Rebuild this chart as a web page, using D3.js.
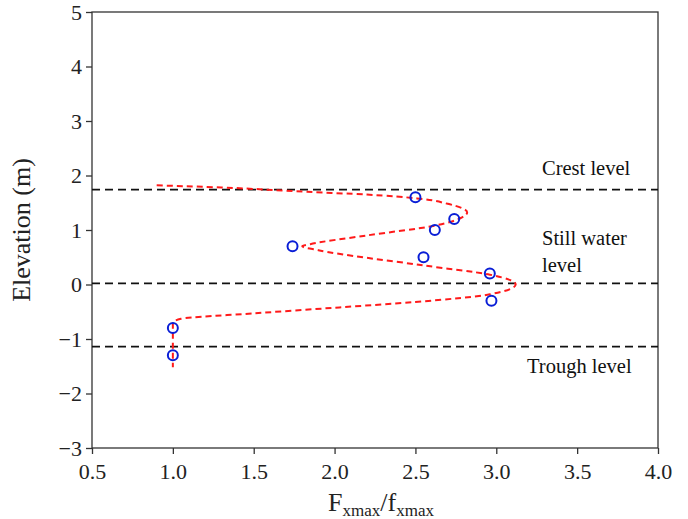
<!DOCTYPE html>
<meta charset="utf-8">
<script src="https://d3js.org/d3.v7.min.js"></script>
<body style="margin:0;background:#fff">
<div id="my_dataviz"></div>
</body>
<style>
text { font-family: "Liberation Serif", "DejaVu Serif", serif; }
.tick text { font-size: 22px; fill: #222; }
</style>
<script>
// measured points (circles)
var ptX = [2.50, 2.74, 2.62, 1.74, 2.55, 2.96, 2.97, 1.00, 1.00];
var ptY = [1.60, 1.20, 1.00, 0.70, 0.50, 0.20, -0.30, -0.80, -1.30];

// fitted profile (red dashed), ordered top to bottom
var fitX = [0.90, 1.30, 1.83, 2.20, 2.51, 2.70, 2.82, 2.78, 2.62, 2.20, 1.85, 1.80, 1.90, 2.55, 2.96, 3.12, 2.96, 2.50, 2.03, 1.50, 1.05, 1.00, 1.00];
var fitY = [1.82, 1.78, 1.70, 1.65, 1.58, 1.48, 1.32, 1.22, 1.08, 0.90, 0.74, 0.70, 0.63, 0.35, 0.18, 0.00, -0.18, -0.32, -0.42, -0.53, -0.63, -0.70, -1.52];

// reference levels
var levelNames = ["Crest level", "Still water level", "Trough level"];
var levelY = [1.74, 0.02, -1.14];

var xTicks = [0.5, 1.0, 1.5, 2.0, 2.5, 3.0, 3.5, 4.0];
var yTicks = [-3, -2, -1, 0, 1, 2, 3, 4, 5];

var margin = {top: 12, right: 30, bottom: 71, left: 92},
    width = 688 - margin.left - margin.right,
    height = 519 - margin.top - margin.bottom;

var svg = d3.select("#my_dataviz")
  .append("svg")
    .attr("width", 688)
    .attr("height", 519)
  .append("g")
    .attr("transform", "translate(" + margin.left + "," + margin.top + ")");

var x = d3.scaleLinear().domain([0.5, 4.0]).range([0, width]);
var y = d3.scaleLinear().domain([-3, 5]).range([height, 0]);

// axes
var xAxis = svg.append("g")
  .attr("transform", "translate(0," + height + ")")
  .call(d3.axisBottom(x).tickValues(xTicks).tickFormat(d3.format(".1f")).tickSize(6).tickSizeOuter(0));
var yAxis = svg.append("g")
  .call(d3.axisLeft(y).tickValues(yTicks).tickSize(6).tickSizeOuter(0));

[xAxis, yAxis].forEach(function(a) {
  a.select(".domain").remove();
  a.selectAll(".tick line").attr("stroke", "#333").attr("stroke-width", 1.3);
});
xAxis.selectAll(".tick text").attr("dy", "1.0em");
yAxis.selectAll(".tick text").attr("dx", "-0.05em");

// frame
svg.append("rect")
  .attr("width", width).attr("height", height)
  .attr("fill", "none").attr("stroke", "#333").attr("stroke-width", 1.3);

// level lines
svg.selectAll(".level")
  .data(levelY)
  .enter().append("line")
    .attr("x1", 0).attr("x2", width)
    .attr("y1", function(d) { return y(d); })
    .attr("y2", function(d) { return y(d); })
    .attr("stroke", "#111").attr("stroke-width", 1.8)
    .attr("stroke-dasharray", "8,5");

// fitted profile
var fit = fitX.map(function(v, i) { return [v, fitY[i]]; });
svg.append("path")
  .datum(fit)
  .attr("fill", "none")
  .attr("stroke", "#ff1a1a").attr("stroke-width", 2)
  .attr("stroke-dasharray", "6,4")
  .attr("d", d3.line()
    .curve(d3.curveMonotoneY)
    .x(function(d) { return x(d[0]); })
    .y(function(d) { return y(d[1]); }));

// measured points
svg.selectAll(".pt")
  .data(ptX)
  .enter().append("circle")
    .attr("cx", function(d) { return x(d); })
    .attr("cy", function(d, i) { return y(ptY[i]); })
    .attr("r", 5)
    .attr("fill", "none")
    .attr("stroke", "#0a1ed6").attr("stroke-width", 2);

// level labels
var lab = svg.append("g").style("font-size", "20.5px").attr("fill", "#111");
lab.append("text").attr("x", 450).attr("y", y(levelY[0]) - 15).text("Crest level");
lab.append("text").attr("x", 450).attr("y", y(levelY[1]) - 38).text("Still water");
lab.append("text").attr("x", 450).attr("y", y(levelY[1]) - 11).text("level");
lab.append("text").attr("x", 435).attr("y", y(levelY[2]) + 26).text("Trough level");

// axis titles
svg.append("text")
  .attr("transform", "translate(-62," + (height / 2) + ") rotate(-90)")
  .attr("text-anchor", "middle")
  .style("font-size", "26px").attr("fill", "#222")
  .text("Elevation (m)");

var xl = svg.append("text")
  .attr("x", width / 2 + 6).attr("y", height + 63)
  .attr("text-anchor", "middle")
  .style("font-size", "26px").attr("fill", "#222");
xl.append("tspan").text("F");
xl.append("tspan").attr("dy", 5).style("font-size", "17px").text("xmax");
xl.append("tspan").attr("dy", -5).text("/f");
xl.append("tspan").attr("dy", 5).style("font-size", "17px").text("xmax");
</script>
